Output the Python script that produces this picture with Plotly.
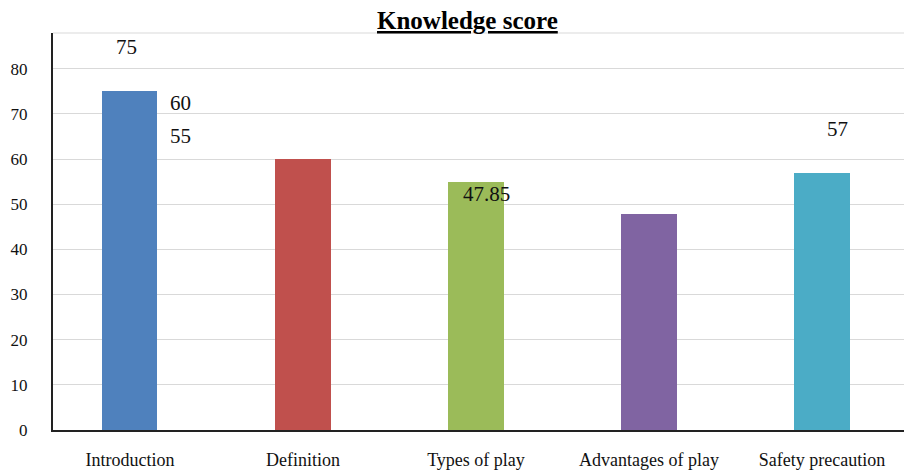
import plotly.graph_objects as go

categories = ["Introduction", "Definition", "Types of play", "Advantages of play", "Safety precaution"]
scores = [75, 60, 55, 47.85, 57]
colors = ["#4F81BD", "#C0504D", "#9BBB59", "#8064A2", "#4BACC6"]
y_ticks = [0, 10, 20, 30, 40, 50, 60, 70, 80]

# data labels (as they appear, displaced, in the source figure)
label_text = ["75", "60", "55", "47.85", "57"]
label_x = [-0.02, 0.29, 0.29, 2.06, 4.09]
label_y = [84.8, 72.5, 65.0, 52.3, 66.6]

SERIF = "Liberation Serif, Times New Roman, serif"

fig = go.Figure()
fig.add_trace(go.Bar(
    x=categories, y=scores, marker=dict(color=colors, line=dict(width=0)),
    width=0.318, showlegend=False, hoverinfo="x+y",
))

for t, x, y in zip(label_text, label_x, label_y):
    fig.add_annotation(x=x, y=y, xref="x", yref="y", text=t, showarrow=False,
                       font=dict(family=SERIF, size=21, color="#111"))

fig.add_annotation(x=467, xref="paper", y=1, yref="paper", text="<b><u>Knowledge score</u></b>",
                   showarrow=False, yanchor="bottom", yshift=-3, xanchor="center",
                   font=dict(family=SERIF, size=25, color="#000"))
fig.layout.annotations[-1].x = (467 - 53) / (904 - 53)

# top border gridline
fig.add_shape(type="line", xref="paper", yref="paper", x0=0, x1=1, y0=1, y1=1,
              line=dict(color="#d9d9d9", width=1), layer="below")

fig.update_layout(
    width=904, height=470,
    margin=dict(l=53, r=0, t=33, b=37),
    paper_bgcolor="white", plot_bgcolor="white",
    bargap=0,
    font=dict(family=SERIF, color="#111"),
)
fig.update_xaxes(
    range=[-0.445, 4.474], showgrid=False, ticks="",
    showline=True, linecolor="#222", linewidth=2,
    tickfont=dict(family=SERIF, size=18, color="#111"),
    ticklabelstandoff=12,
)
fig.update_yaxes(
    range=[0, 87.9], tickvals=y_ticks, showgrid=True, gridcolor="#d9d9d9", gridwidth=1,
    zeroline=False, showline=True, linecolor="#222", linewidth=2, ticks="",
    tickfont=dict(family=SERIF, size=17, color="#111"),
    ticklabelstandoff=20,
)

fig.write_html("out.html")
